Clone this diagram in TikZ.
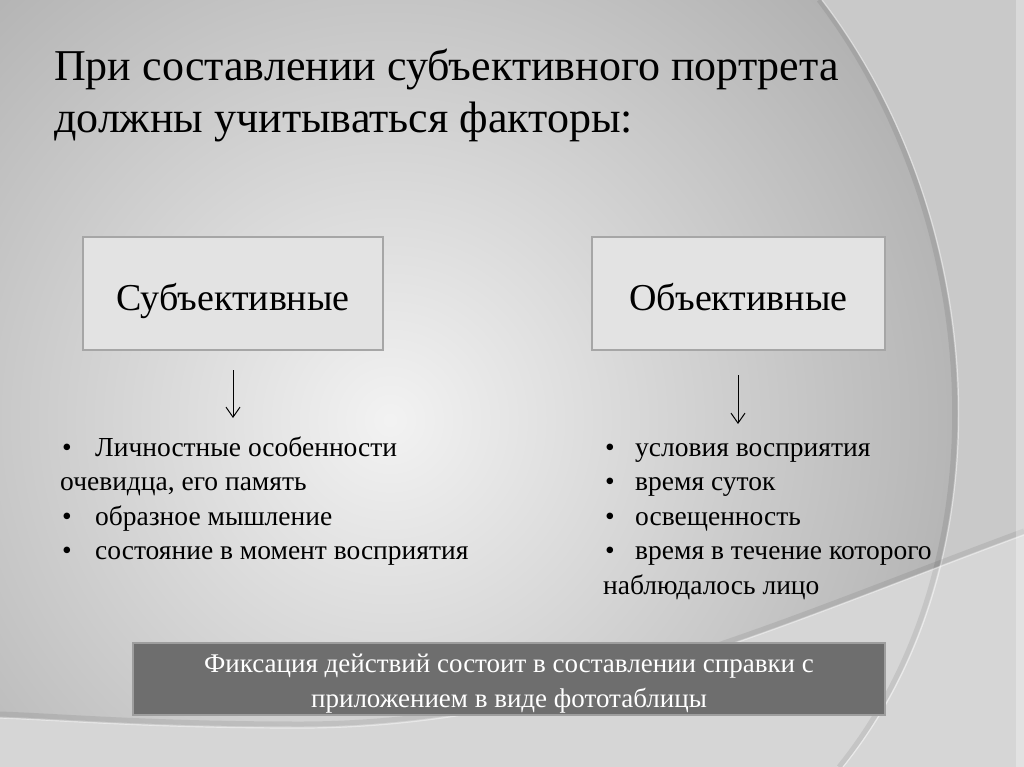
\documentclass[tikz,border=0pt]{standalone}
\usepackage{fontspec}
\setmainfont{Liberation Serif}
\usetikzlibrary{arrows.meta}

\begin{document}
\begin{tikzpicture}[x=1pt, y=-1pt]
    \tikzstyle{factor}=[draw=black!35, fill=black!11, line width=1.3pt, minimum width=300pt, minimum height=113pt, text height=40pt, text depth=7pt, font=\fontsize{38}{44}\selectfont]
    \tikzstyle{items}=[anchor=north west, align=left, inner sep=0pt, font=\fontsize{27.5}{34.5}\selectfont]
    \tikzstyle{note}=[draw=black!38, fill=black!57, line width=1.8pt, text=white, align=center, minimum width=752pt, minimum height=72pt, text height=60pt, text depth=4pt, font=\fontsize{27}{35}\selectfont]
    \tikzstyle{down}=[line width=1pt, -{Straight Barb[length=10pt, width=14pt]}]
    \useasboundingbox (0,0) rectangle (1024,767);
    % background
    \begin{scope}
        \clip (0,0) rectangle (1024,767);
        \fill[black!21] (0,0) rectangle (1024,767);
        \begin{scope}
            \clip (0,0) -- (822,0) .. controls (990,220) and (1010,560) .. (843,767) -- (0,767) -- cycle;
            \shade[inner color=black!5, outer color=black!37] (390,420) circle (760);
        \end{scope}
        \fill[black!16] (1024,535) .. controls (780,625) and (560,728) .. (300,728) .. controls (150,728) and (60,720) .. (0,718) -- (0,767) -- (1024,767) -- cycle;
        \draw[black, opacity=.08, line width=5pt] (819,0) .. controls (986,220) and (1006,560) .. (839,767);
        \draw[white, opacity=.5, line width=1.2pt] (822,0) .. controls (990,220) and (1010,560) .. (843,767);
        \draw[black, opacity=.08, line width=5pt] (1024,531) .. controls (780,621) and (560,724) .. (300,724) .. controls (150,724) and (60,716) .. (0,714);
        \draw[white, opacity=.45, line width=1.2pt] (1024,535) .. controls (780,625) and (560,728) .. (300,728) .. controls (150,728) and (60,720) .. (0,718);
        \fill[white, opacity=.3] (1016,0) rectangle (1024,767);
    \end{scope}
    % title
    \node[anchor=north west, align=left, inner sep=0pt, font=\fontsize{44}{52}\selectfont] (title) at (54,44) {\strut При составлении субъективного портрета\\должны учитываться факторы:};
    % factor boxes
    \node[factor] (subj) at (233,293.5) {Субъективные};
    \node[factor, minimum width=293pt] (obj) at (738.5,293.5) {Объективные};
    \coordinate (subjtop) at (233,370);
    \coordinate (subjend) at (233,418);
    \coordinate (objtop) at (738,375);
    \coordinate (objend) at (738,424);
    \draw[down] (subjtop) -- (subjend);
    \draw[down] (objtop) -- (objend);
    % lists
    \node[items] (subjlist) at (60,432) {\strut\makebox[35pt][l]{\hspace{2pt}•}Личностные особенности\\очевидца, его память\\\makebox[35pt][l]{\hspace{2pt}•}образное мышление\\\makebox[35pt][l]{\hspace{2pt}•}состояние в момент восприятия};
    \node[items] (objlist) at (603,432) {\strut\makebox[32pt][l]{\hspace{2pt}•}условия восприятия\\\makebox[32pt][l]{\hspace{2pt}•}время суток\\\makebox[32pt][l]{\hspace{2pt}•}освещенность\\\makebox[32pt][l]{\hspace{2pt}•}время в течение которого\\наблюдалось лицо};
    % note
    \node[note] (note) at (509,679) {Фиксация действий состоит в составлении справки с\\приложением в виде фототаблицы};
\end{tikzpicture}
\end{document}
